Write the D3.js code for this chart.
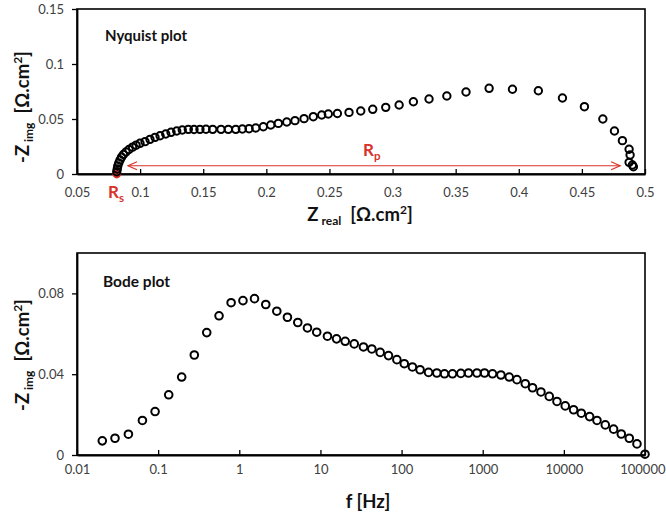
<!DOCTYPE html>
<html><head><meta charset="utf-8">
<script src="https://cdn.jsdelivr.net/npm/d3@7"></script>
<style>body{margin:0;background:#fff}svg{display:block}</style>
</head><body>
<script>
// Nyquist data (low frequency -> high frequency)
const nyqReal = [0.4908,0.4900,0.4874,0.4882,0.4874,0.4821,0.4758,0.4666,0.4520,0.4346,0.4155,0.3950,0.3765,0.3582,0.3430,0.3289,0.3165,0.3052,0.2946,0.2843,0.2748,0.2655,0.2563,0.2491,0.2439,0.2372,0.2299,0.2227,0.2162,0.2095,0.2035,0.1976,0.1916,0.1863,0.1810,0.1758,0.1699,0.1641,0.1575,0.1522,0.1474,0.1427,0.1382,0.1334,0.1290,0.1245,0.1203,0.1158,0.1118,0.1078,0.1039,0.0999,0.0968,0.0940,0.0912,0.0888,0.0868,0.0853,0.0841,0.0831,0.0823,0.0819,0.0815];
const nyqImg = [0.0066,0.0082,0.0106,0.0173,0.0225,0.0303,0.0391,0.0500,0.0612,0.0691,0.0757,0.0770,0.0779,0.0745,0.0709,0.0682,0.0657,0.0627,0.0606,0.0588,0.0573,0.0560,0.0550,0.0545,0.0536,0.0521,0.0503,0.0485,0.0473,0.0460,0.0445,0.0430,0.0418,0.0412,0.0409,0.0406,0.0406,0.0406,0.0406,0.0407,0.0406,0.0405,0.0406,0.0400,0.0391,0.0379,0.0364,0.0348,0.0333,0.0315,0.0294,0.0279,0.0262,0.0244,0.0223,0.0200,0.0177,0.0153,0.0127,0.0100,0.0073,0.0045,0.0021];
const rsPoint = [0.0815, 0];
const rpArrow = [0.0904, 0.4803, 0.0075];

// Bode data
const bodeFreq = [0.0205,0.0294,0.043,0.064,0.0917,0.135,0.195,0.279,0.397,0.563,0.793,1.11,1.54,2.12,2.9,3.92,5.26,6.92,9.0,12.2,15.8,20.2,26.1,33.9,43,54.5,69,87.5,108,136,169,215,272,338,424,538,668,849,1053,1321,1676,2121,2641,3345,4113,5221,6607,8222,10400,13180,16400,20760,25600,32400,41000,51000,64000,79600,100000];
const bodeImg = [0.007,0.0083,0.0103,0.0171,0.0215,0.0298,0.0386,0.0495,0.0606,0.0689,0.0754,0.0764,0.0774,0.0745,0.0712,0.0682,0.0656,0.0629,0.0608,0.0588,0.0575,0.0563,0.055,0.0535,0.0525,0.0508,0.0492,0.0472,0.0452,0.0436,0.0422,0.0409,0.0406,0.0402,0.0402,0.0404,0.0406,0.0406,0.0406,0.0402,0.0396,0.0386,0.0373,0.0353,0.0333,0.0312,0.029,0.0265,0.0243,0.0224,0.0207,0.019,0.0171,0.0149,0.0128,0.0104,0.0083,0.0055,0.0004];

// Tick values / labels
const nyqXTicks = [0.05,0.1,0.15,0.2,0.25,0.3,0.35,0.4,0.45,0.5];
const nyqYTicks = [0,0.05,0.1,0.15];
const bodeXTicks = [0.01,0.1,1,10,100,1000,10000,100000];
const bodeXLabels = ["0.01","0.1","1","10","100","1000","10000","100000"];
const bodeYTicks = [0,0.04,0.08];

const W = 666, H = 521;
const FONT = "Lato, 'Open Sans', sans-serif";
const RED = "#d8322a";
const TICKC = "#404040";

const svg = d3.select("body").append("svg").attr("width", W).attr("height", H)
  .style("font-family", FONT);

function frame(x0, y0, x1, y1) {
  svg.append("rect").attr("x", x0).attr("y", y0).attr("width", x1 - x0).attr("height", y1 - y0)
    .attr("fill", "none").attr("stroke", "#000").attr("stroke-width", 1.6);
}

// ---------- Nyquist ----------
const xN = d3.scaleLinear().domain([0.05, 0.5]).range([77, 645]);
const yN = d3.scaleLinear().domain([0, 0.15]).range([174, 9]);

frame(77, 9, 645, 174);

const gxN = svg.append("g").attr("transform", "translate(0,174)")
  .call(d3.axisBottom(xN).tickValues(nyqXTicks).tickSizeInner(-5).tickSizeOuter(0).tickPadding(14)
    .tickFormat(d => d3.format("")(+d.toFixed(2))));
const gyN = svg.append("g").attr("transform", "translate(77,0)")
  .call(d3.axisLeft(yN).tickValues(nyqYTicks).tickSizeInner(5).tickSizeOuter(0).tickPadding(8)
    .tickFormat(d => d3.format("")(+d.toFixed(2))));

// arrow
const ay = yN(rpArrow[2]);
const ax0 = xN(rpArrow[0]), ax1 = xN(rpArrow[1]);
svg.append("line").attr("x1", ax0).attr("x2", ax1).attr("y1", ay).attr("y2", ay)
  .attr("stroke", RED).attr("stroke-width", 1.2);
svg.append("path").attr("d", `M${ax0+9},${ay-4}L${ax0},${ay}L${ax0+9},${ay+4}`)
  .attr("fill", "none").attr("stroke", RED).attr("stroke-width", 1.2);
svg.append("path").attr("d", `M${ax1-9},${ay-4}L${ax1},${ay}L${ax1-9},${ay+4}`)
  .attr("fill", "none").attr("stroke", RED).attr("stroke-width", 1.2);

// Rs marker
svg.append("circle").attr("cx", xN(rsPoint[0])).attr("cy", yN(rsPoint[1])).attr("r", 4.4).attr("fill", RED);

svg.append("g").selectAll("circle").data(nyqReal.map((d, i) => [d, nyqImg[i]])).join("circle")
  .attr("cx", d => xN(d[0])).attr("cy", d => yN(d[1])).attr("r", 3.7)
  .attr("fill", "none").attr("stroke", "#000").attr("stroke-width", 2);

// ---------- Bode ----------
const xB = d3.scaleLog().domain([0.01, 100000]).range([77, 645]);
const yB = d3.scaleLinear().domain([0, 0.1]).range([455, 253]);

frame(77, 253, 645, 455);

const gxB = svg.append("g").attr("transform", "translate(0,455)")
  .call(d3.axisBottom(xB).tickValues(bodeXTicks).tickSizeInner(-5).tickSizeOuter(0).tickPadding(10)
    .tickFormat((d, i) => bodeXLabels[i]));
const gyB = svg.append("g").attr("transform", "translate(77,0)")
  .call(d3.axisLeft(yB).tickValues(bodeYTicks).tickSizeInner(5).tickSizeOuter(0).tickPadding(8)
    .tickFormat(d => d3.format("")(+d.toFixed(2))));

svg.append("g").selectAll("circle").data(bodeFreq.map((d, i) => [d, bodeImg[i]])).join("circle")
  .attr("cx", d => xB(d[0])).attr("cy", d => yB(d[1])).attr("r", 3.8)
  .attr("fill", "none").attr("stroke", "#000").attr("stroke-width", 2);

// axis styling
[gxN, gyN, gxB, gyB].forEach(g => {
  g.select(".domain").attr("stroke", "#000").attr("stroke-width", 1.8);
  g.selectAll(".tick line").attr("stroke", "#000").attr("stroke-width", 1.3);
  g.selectAll(".tick text").attr("fill", TICKC).style("font-size", "13px").style("font-family", FONT);
});
// keep the last Bode label inside the picture
gxB.selectAll(".tick text").filter((d, i) => i === bodeXTicks.length - 1)
  .attr("text-anchor", "end").attr("x", 20);

// ---------- Texts ----------
svg.append("text").attr("x", 105).attr("y", 41).text("Nyquist plot")
  .style("font-weight", "bold").style("font-size", "15px").attr("fill", "#111");
svg.append("text").attr("x", 103).attr("y", 287).text("Bode plot")
  .style("font-weight", "bold").style("font-size", "15.5px").attr("fill", "#111");

function zTitle(x, y, sub, rotate) {
  const t = svg.append("text").attr("transform", `translate(${x},${y})` + (rotate ? " rotate(-90)" : ""))
    .attr("text-anchor", "middle").style("font-weight", "bold").style("font-size", "18.5px").attr("fill", "#111");
  t.append("tspan").text(rotate ? "-Z" : "Z");
  t.append("tspan").text(" " + sub).style("font-size", "12px").attr("dy", 4);
  t.append("tspan").text("  [Ω.cm").attr("dy", -4);
  t.append("tspan").text("2").style("font-size", "12px").attr("dy", -7);
  t.append("tspan").text("]").attr("dy", 7);
  t.style("white-space", "pre");
  return t;
}
zTitle(360, 221, "real", false);
zTitle(29, 107, "img", true);
zTitle(29, 355, "img", true);

svg.append("text").attr("x", 368).attr("y", 508).attr("text-anchor", "middle")
  .style("font-weight", "bold").style("font-size", "18.5px").attr("fill", "#111").text("f [Hz]");

// Rs and Rp labels
const rs = svg.append("text").attr("x", 108).attr("y", 198).style("font-weight", "bold")
  .style("font-size", "17px").attr("fill", RED);
rs.append("tspan").text("R");
rs.append("tspan").text("s").style("font-size", "11.5px").attr("dy", 4);
const rp = svg.append("text").attr("x", 363).attr("y", 156).style("font-weight", "bold")
  .style("font-size", "17px").attr("fill", RED);
rp.append("tspan").text("R");
rp.append("tspan").text("p").style("font-size", "11.5px").attr("dy", 4);
</script>
</body></html>
